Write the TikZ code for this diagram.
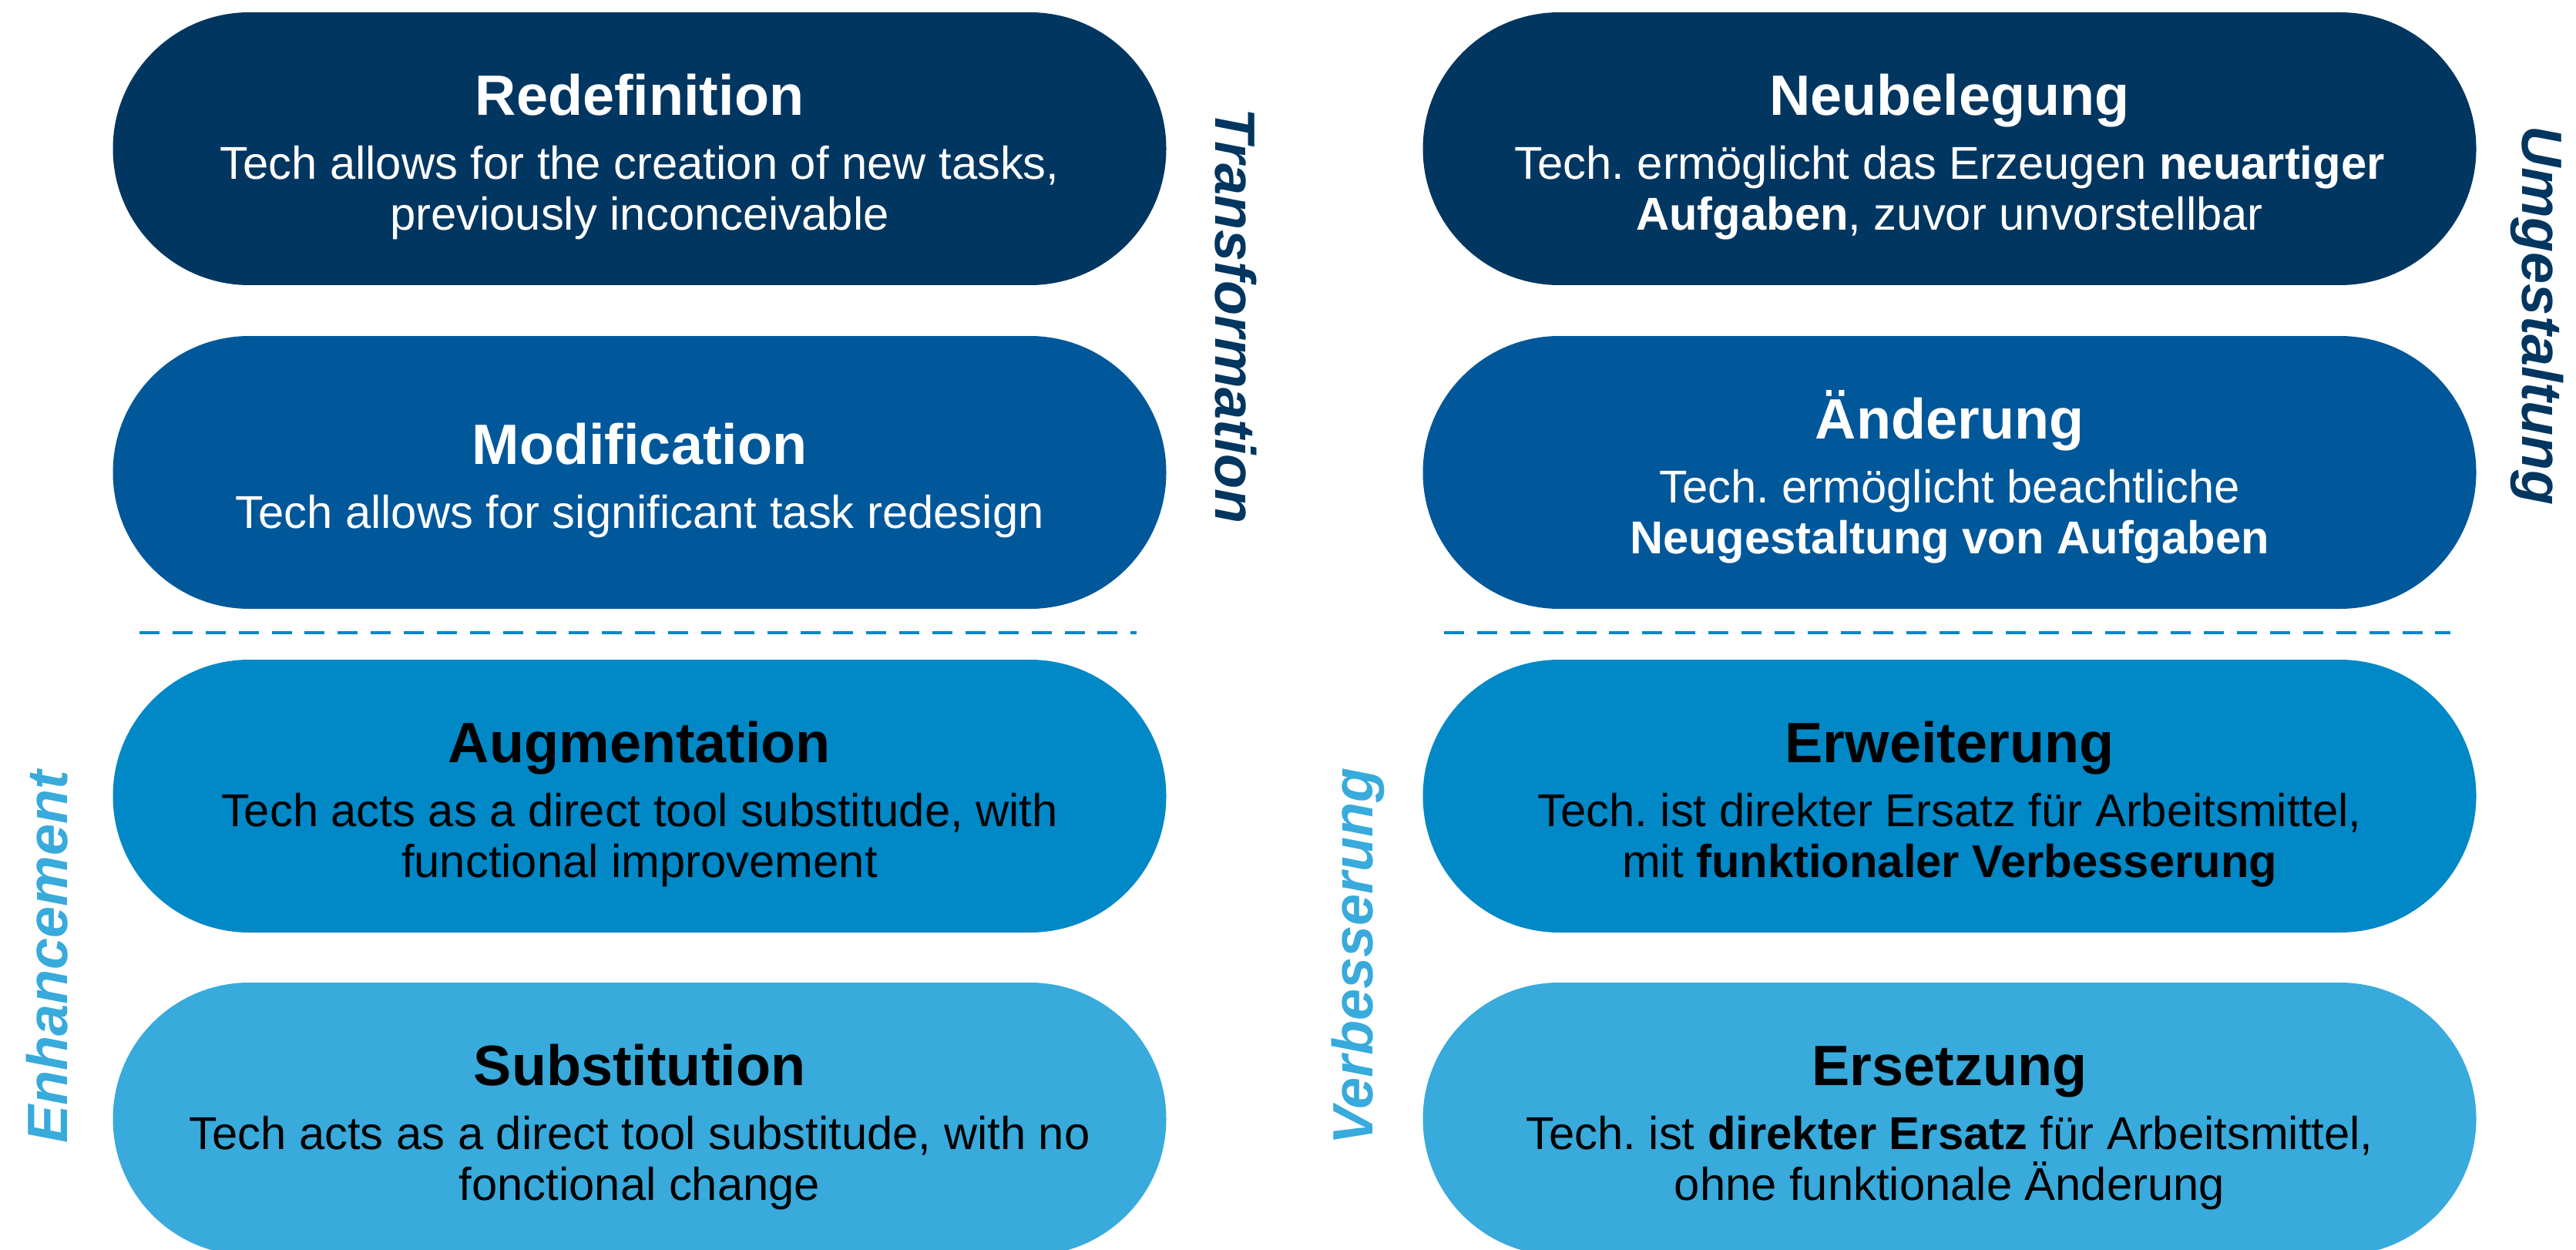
\documentclass[tikz,border=0pt]{standalone}
\usepackage{fontspec}
\setmainfont{Liberation Sans}
\frenchspacing
\usetikzlibrary{shapes.misc}
\definecolor{rowone}{HTML}{003660}
\definecolor{rowtwo}{HTML}{00579A}
\definecolor{rowthree}{HTML}{0088C7}
\definecolor{rowfour}{HTML}{38AADC}
\newcommand\pilltitle[1]{{\fontsize{21}{25}\selectfont\bfseries\rule{0pt}{21pt}#1}\\[5pt]}
\begin{document}
\begin{tikzpicture}[
        pill/.style={shape=rounded rectangle, minimum width=13.67cm, minimum height=3.54cm,
            inner sep=0pt, align=center, font=\fontsize{17}{18.7}\selectfont},
        side/.style={font=\fontsize{21}{25}\selectfont\bfseries\itshape},
        sepline/.style={rowthree, line width=1.3pt, dash pattern=on 7.4pt off 4.8pt}]
        \useasboundingbox (0, 0) rectangle (33.43, 16.21);

        \node[pill, fill=rowone, text=white] at (8.30, 14.28)(redef){\pilltitle{Redefinition}Tech allows for the creation of new tasks,\\previously inconceivable};
        \node[pill, fill=rowtwo, text=white] at (8.30, 10.08)(modif){\pilltitle{Modification}Tech allows for significant task redesign};
        \node[pill, fill=rowthree, text=black] at (8.30, 5.88)(augm){\pilltitle{Augmentation}Tech acts as a direct tool substitude, with\\functional improvement};
        \node[pill, fill=rowfour, text=black] at (8.30, 1.69)(subst){\pilltitle{Substitution}Tech acts as a direct tool substitude, with no\\fonctional change};

        \node[pill, fill=rowone, text=white] at (25.30, 14.28)(neub){\pilltitle{Neubelegung}Tech. ermöglicht das Erzeugen \textbf{neuartiger}\\\textbf{Aufgaben}, zuvor unvorstellbar};
        \node[pill, fill=rowtwo, text=white] at (25.30, 10.08)(aend){\pilltitle{Änderung}Tech. ermöglicht beachtliche\\\textbf{Neugestaltung von Aufgaben}};
        \node[pill, fill=rowthree, text=black] at (25.30, 5.88)(erw){\pilltitle{Erweiterung}Tech. ist direkter Ersatz für Arbeitsmittel,\\mit \textbf{funktionaler Verbesserung}};
        \node[pill, fill=rowfour, text=black] at (25.30, 1.69)(ers){\pilltitle{Ersetzung}Tech. ist \textbf{direkter Ersatz} für Arbeitsmittel,\\ohne funktionale Änderung};

        \node[side, text=rowone, rotate=-90] at (16.04, 12.11)(trans){Transformation};
        \node[side, text=rowone, rotate=-90] at (32.93, 12.11)(umg){Umgestaltung};
        \node[side, text=rowfour, rotate=90] at (0.61, 3.79)(enh){Enhancement};
        \node[side, text=rowfour, rotate=90] at (17.62, 3.80)(verb){Verbesserung};

        \coordinate (lsepa) at (1.81, 8.00);
        \coordinate (lsepb) at (14.75, 8.00);
        \coordinate (rsepa) at (18.74, 8.00);
        \coordinate (rsepb) at (31.80, 8.00);
        \draw[sepline] (lsepa) -- (lsepb);
        \draw[sepline] (rsepa) -- (rsepb);
    \end{tikzpicture}
\end{document}
